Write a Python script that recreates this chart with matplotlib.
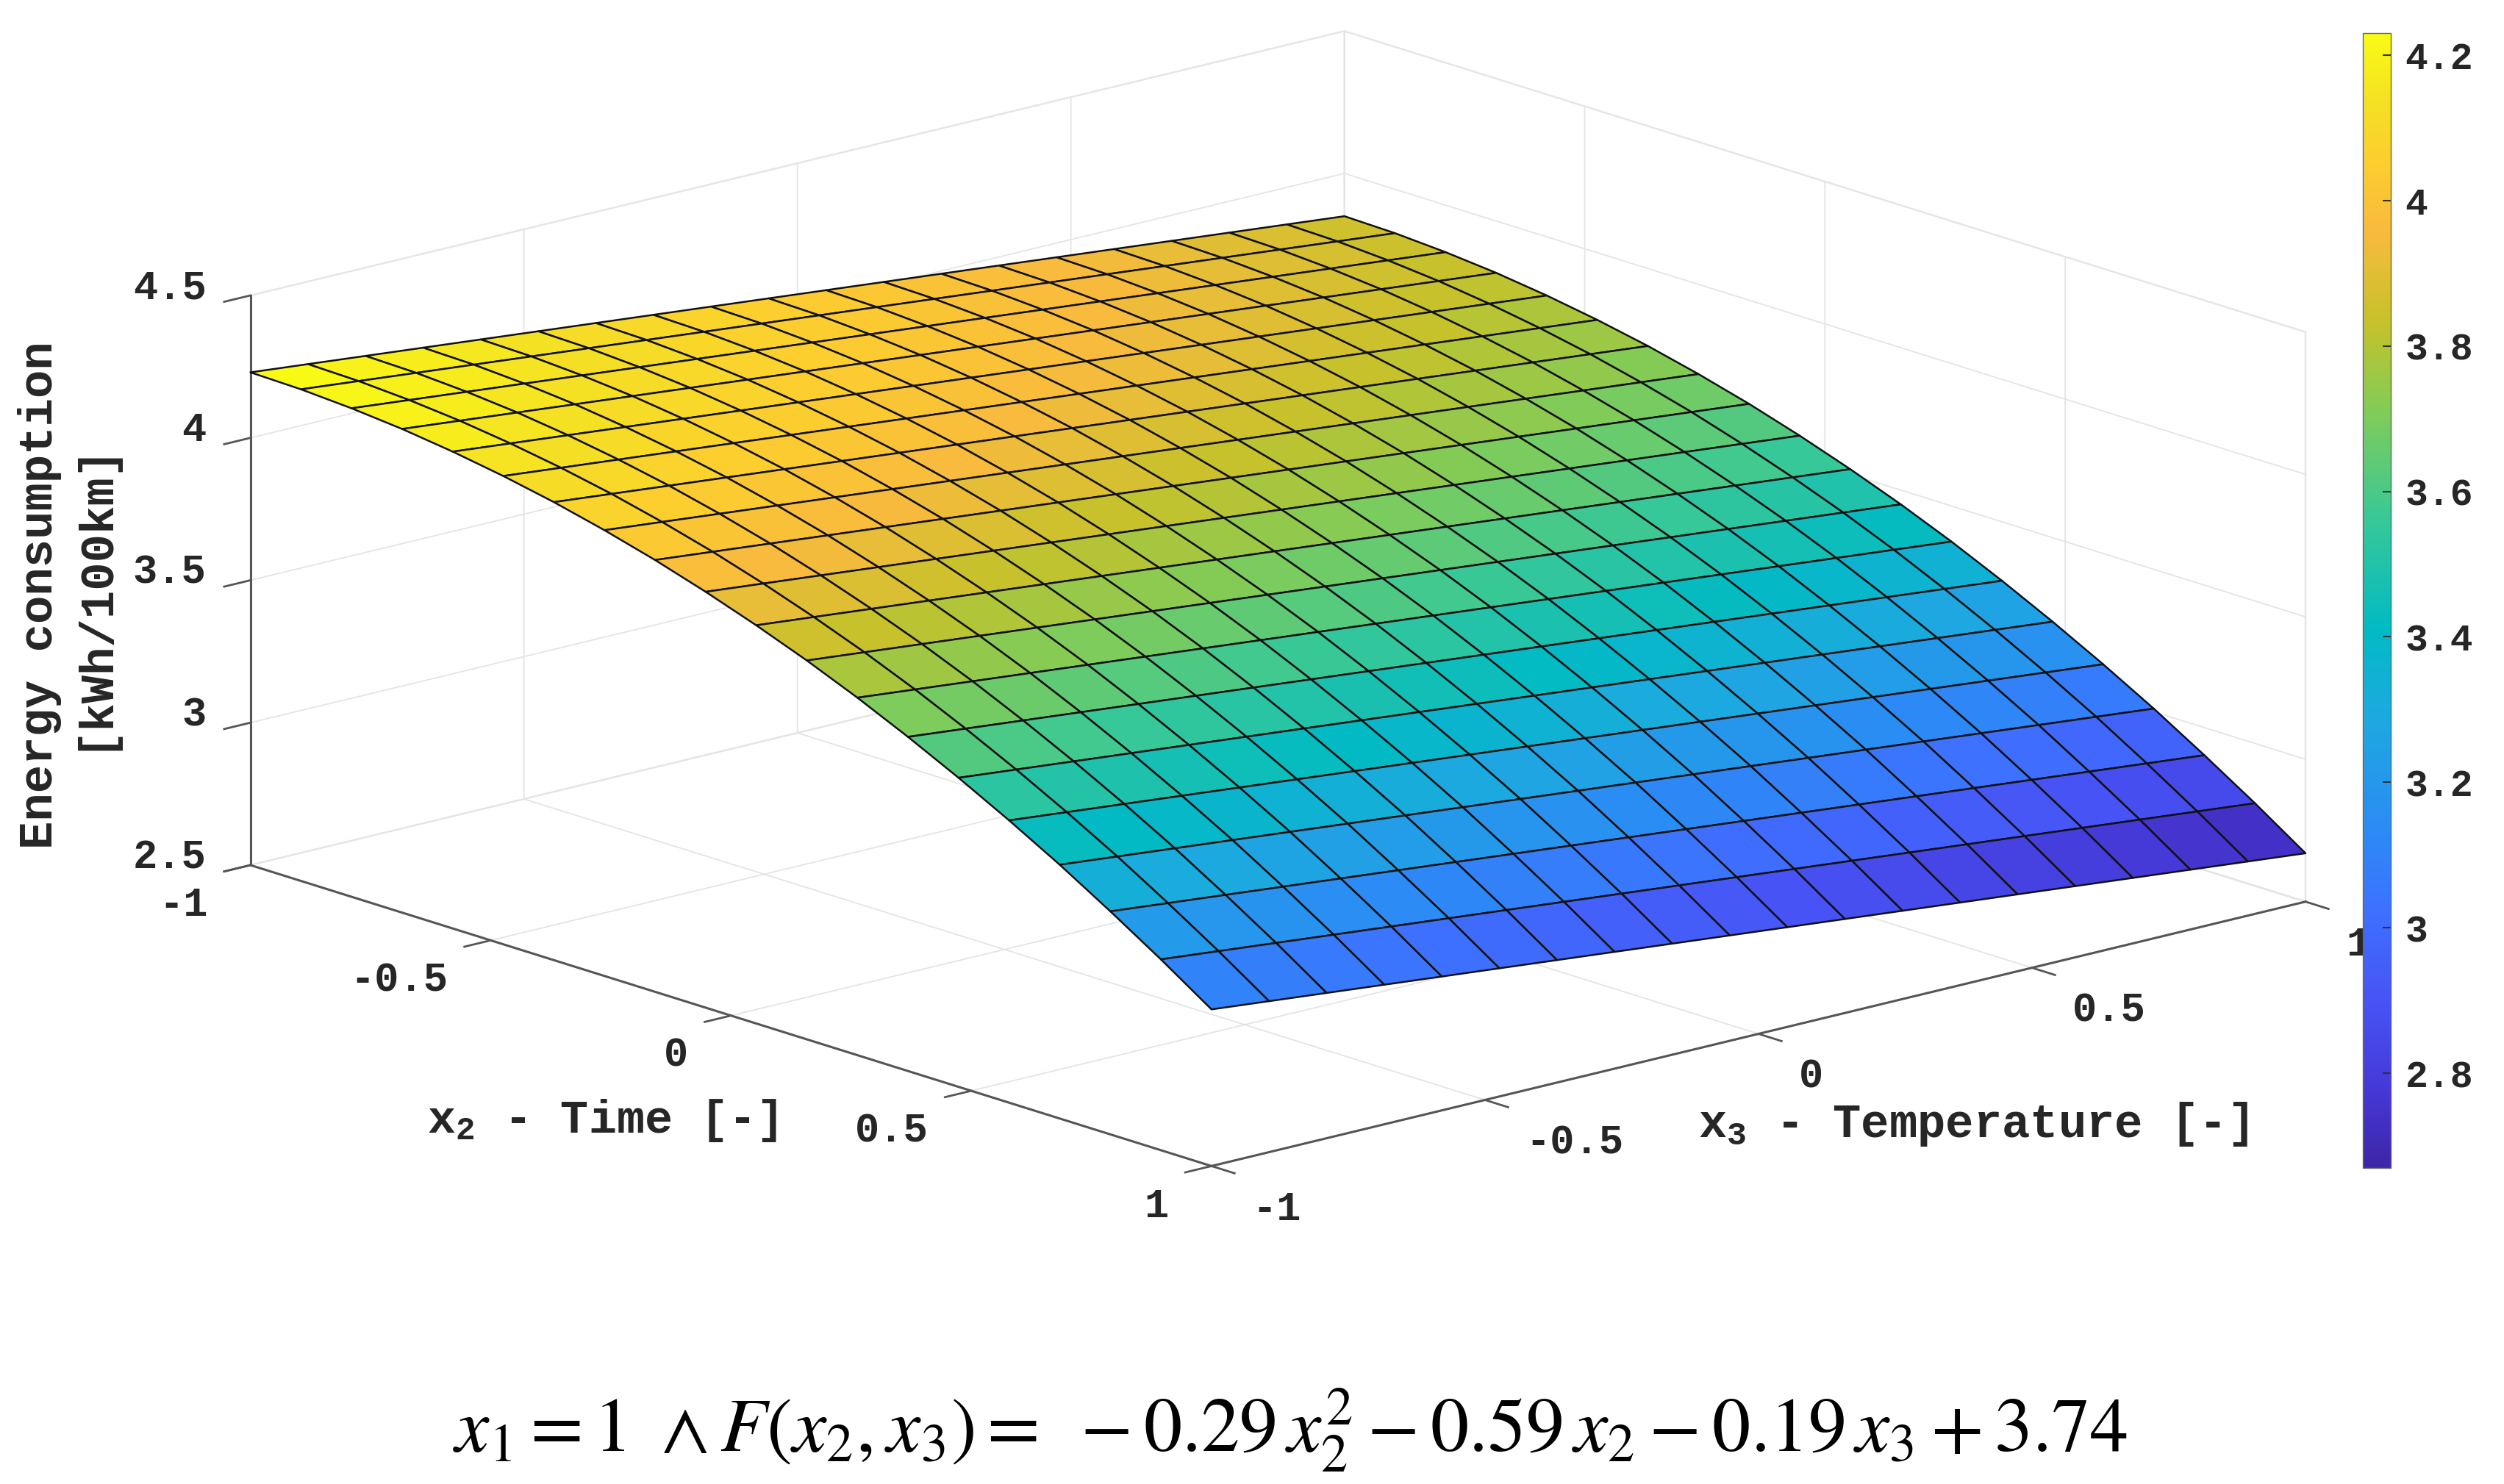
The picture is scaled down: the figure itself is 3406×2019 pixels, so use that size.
import numpy as np
import matplotlib
matplotlib.use('Agg')
import matplotlib.pyplot as plt
from matplotlib.colors import LinearSegmentedColormap, Normalize
from matplotlib.cm import ScalarMappable
from mpl_toolkits.mplot3d import proj3d

# --- DATA ---
x2_grid = [-1.0, -0.8947, -0.7895, -0.6842, -0.5789, -0.4737, -0.3684, -0.2632, -0.1579, -0.0526,
           0.0526, 0.1579, 0.2632, 0.3684, 0.4737, 0.5789, 0.6842, 0.7895, 0.8947, 1.0]
x3_grid = [-1.0, -0.8947, -0.7895, -0.6842, -0.5789, -0.4737, -0.3684, -0.2632, -0.1579, -0.0526,
           0.0526, 0.1579, 0.2632, 0.3684, 0.4737, 0.5789, 0.6842, 0.7895, 0.8947, 1.0]
# energy along the x3 = -1 edge, read for each x2 grid line
energy_edge = [4.23, 4.226, 4.215, 4.198, 4.174, 4.144, 4.108, 4.065, 4.016, 3.960,
               3.898, 3.830, 3.755, 3.673, 3.585, 3.491, 3.391, 3.283, 3.170, 3.05]
# drop of energy going along x3, read for each x3 grid line
x3_drop = [0.0, -0.02, -0.04, -0.06, -0.08, -0.10, -0.12, -0.14, -0.16, -0.18,
           -0.20, -0.22, -0.24, -0.26, -0.28, -0.30, -0.32, -0.34, -0.36, -0.38]

axis_ticks = [-1, -0.5, 0, 0.5, 1]
axis_tick_labels = ['-1', '-0.5', '0', '0.5', '1']
z_ticks = [2.5, 3, 3.5, 4, 4.5]
z_tick_labels = ['2.5', '3', '3.5', '4', '4.5']
cbar_ticks = [2.8, 3, 3.2, 3.4, 3.6, 3.8, 4, 4.2]
cbar_tick_labels = ['2.8', '3', '3.2', '3.4', '3.6', '3.8', '4', '4.2']
cbar_min, cbar_max = 2.67, 4.23

# parula anchors (position in the 64 step table, colour)
parula_colors = [(0 / 63, (0.2422, 0.1504, 0.6603)), (4 / 63, (0.2706, 0.2147, 0.8364)),
                 (9 / 63, (0.2810, 0.3228, 0.9579)), (14 / 63, (0.2440, 0.4358, 0.9988)),
                 (18 / 63, (0.1786, 0.5289, 0.9682)), (25 / 63, (0.1113, 0.6635, 0.8763)),
                 (30 / 63, (0.0067, 0.7312, 0.7660)), (36 / 63, (0.2161, 0.7843, 0.5923)),
                 (42 / 63, (0.5044, 0.7993, 0.3480)), (47 / 63, (0.7738, 0.7598, 0.1646)),
                 (52 / 63, (0.9728, 0.7298, 0.2394)), (56 / 63, (0.9892, 0.8086, 0.1816)),
                 (59 / 63, (0.9598, 0.8730, 0.1450)), (63 / 63, (0.9769, 0.9839, 0.0805))]
parula = LinearSegmentedColormap.from_list('parula', parula_colors, N=256)

plt.rcParams['mathtext.fontset'] = 'custom'
plt.rcParams['mathtext.bf'] = 'Liberation Mono:bold'
plt.rcParams['mathtext.rm'] = 'Liberation Mono:bold'
plt.rcParams['mathtext.it'] = 'Liberation Mono:bold'
plt.rcParams['grid.color'] = '#e4e4e4'
plt.rcParams['grid.linewidth'] = 1.3

W, H = 3406, 2019
text_color = '#262626'
mono = {'family': 'Liberation Mono', 'weight': 'bold', 'color': text_color}

fig = plt.figure(figsize=(W / 100, H / 100), dpi=100, facecolor='white')
ax = fig.add_axes([0.1, 0.1, 0.5, 0.5 * W / H], projection='3d', computed_zorder=False)
ax.patch.set_alpha(0)
ax.set_proj_type('ortho')
ax.view_init(elev=15.97, azim=-41.3)
ax.set_box_aspect((1, 1, 0.407))
ax.set_xlim(-1, 1, view_margin=0)
ax.set_ylim(-1, 1, view_margin=0)
ax.set_zlim(2.5, 4.5, view_margin=0)

# --- SURFACE ---
X, Y = np.meshgrid(x2_grid, x3_grid, indexing='ij')
Z = np.array(energy_edge)[:, None] + np.array(x3_drop)[None, :]
norm = Normalize(cbar_min, cbar_max)
surf = ax.plot_surface(X, Y, Z, cmap=parula, norm=norm, rstride=1, cstride=1, shade=False,
                       edgecolor='#111111', linewidth=1.8, antialiased=True)
surf.set_clip_on(False)

# --- AXES ---
ax.set_xticks(axis_ticks)
ax.set_yticks(axis_ticks)
ax.set_zticks(z_ticks)
ax.set_xticklabels([])
ax.set_yticklabels([])
ax.set_zticklabels([])
ax.zaxis.set_ticks_position('lower')
for axis in (ax.xaxis, ax.yaxis, ax.zaxis):
    axis.pane.set_facecolor((1, 1, 1, 0))
    axis.pane.set_edgecolor('#e4e4e4')
    axis.pane.set_linewidth(2.0)
    axis.line.set_color('#555555')
    axis.line.set_linewidth(2.2)
    axis._axinfo['tick']['inward_factor'] = 0.3
    axis._axinfo['tick']['outward_factor'] = 0
    axis._axinfo['tick']['linewidth'] = {True: 2.0, False: 1.0}
    axis._axinfo['tick']['color'] = '#555555'
ax.tick_params(colors='#555555', width=2.0)


def screen_xy(x, y, z):
    xp, yp, _ = proj3d.proj_transform(x, y, z, ax.get_proj())
    return ax.transData.transform((xp, yp))


# fit the box corners onto the pixel positions of the reference
fig.canvas.draw()
left = screen_xy(-1, -1, 2.5)
right = screen_xy(1, 1, 2.5)
bbox = ax.get_position()
scale = (3136 - 340.6) / (right[0] - left[0])
new_w = bbox.width * W * scale
new_x0 = 340.6 - scale * (left[0] - bbox.x0 * W)
new_y0 = (H - 1177) - scale * (left[1] - bbox.y0 * H)
ax.set_position([new_x0 / W, new_y0 / H, new_w / W, new_w / H])
fig.canvas.draw()


def tick_text(point, label, dx, dy, ha):
    px, py = screen_xy(*point)
    fig.text((px + dx) / W, (py + dy) / H, label, fontsize=40, ha=ha, va='center', **mono)


# --- TICK LABELS ---
for val, lab in zip(axis_ticks, axis_tick_labels):
    tick_text((val, -1, 2.5), lab, -58, -55, 'right')
    tick_text((1, val, 2.5), lab, 55, -59, 'left')
for val, lab in zip(z_ticks, z_tick_labels):
    tick_text((-1, -1, val), lab, -60, 10, 'right')

# --- LABELS ---
fig.text(90 / W, 1 - 810 / H, 'Energy consumption\n[kWh/100km]', fontsize=46, rotation=90,
         ha='center', va='center', multialignment='center', linespacing=1.25, **mono)
fig.text(819 / W, 1 - 1525 / H, r'$\mathbf{x_2}$ - Time [-]', fontsize=45.6, ha='center', va='center',
         math_fontfamily='custom', **mono)
fig.text(2684 / W, 1 - 1530 / H, r'$\mathbf{x_3}$ - Temperature [-]', fontsize=46, ha='center', va='center',
         math_fontfamily='custom', **mono)

# --- COLORBAR ---
cax = fig.add_axes([3214 / W, 1 - 1589 / H, 38 / W, (1589 - 45) / H])
cax.set_zorder(5)
cax.set_facecolor('white')
cbar = fig.colorbar(ScalarMappable(norm=norm, cmap=parula), cax=cax, ticks=cbar_ticks)
cbar.ax.set_yticklabels(cbar_tick_labels, fontfamily='Liberation Mono', fontweight='bold',
                        fontsize=37, color=text_color)
cbar.ax.tick_params(direction='in', length=8, width=1.5, color='#333333', pad=14)
cbar.outline.set_edgecolor('#666666')
cbar.outline.set_linewidth(1.0)

# --- EQUATION ---
fig.text(1755 / W, 1 - 1946 / H,
         r'$x_1 = 1\ \wedge F(x_2, x_3) =\ -0.29\,x_2^2 - 0.59\,x_2 - 0.19\,x_3 + 3.74$',
         fontsize=75, ha='center', va='center', math_fontfamily='stix', color='black')

fig.savefig('out.png', dpi=100)
